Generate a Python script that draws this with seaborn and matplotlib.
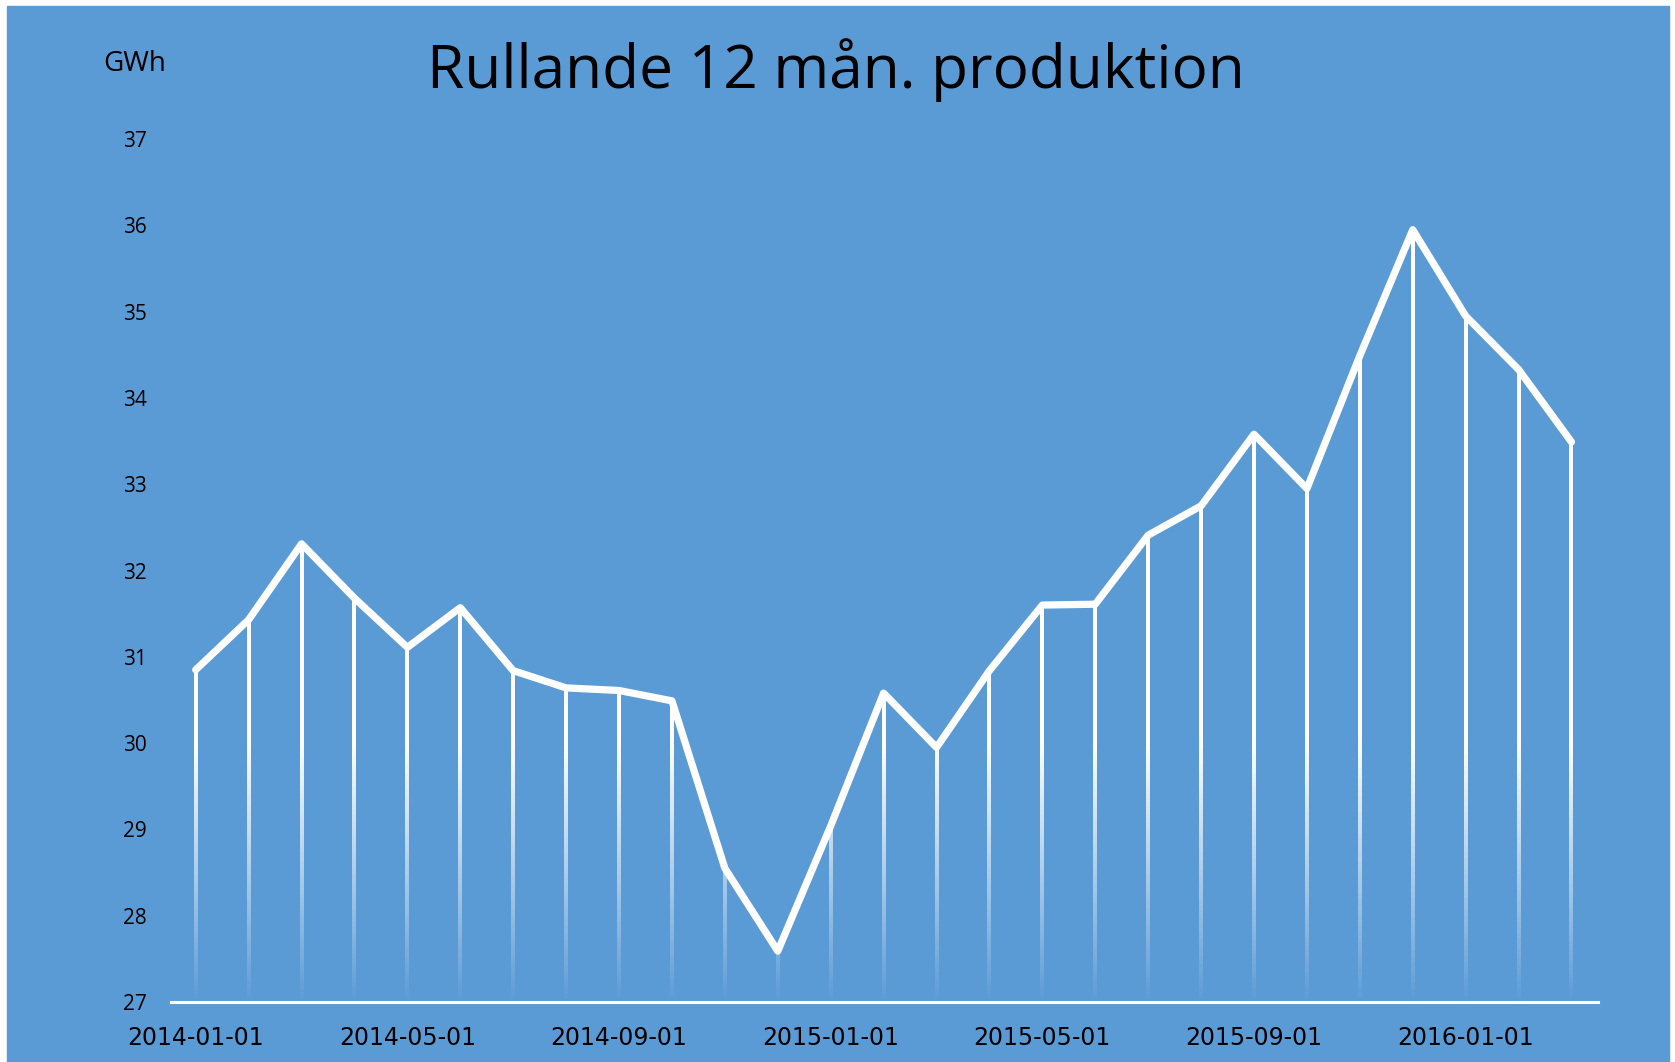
import numpy as np
import pandas as pd
import seaborn as sns
import matplotlib.pyplot as plt
from matplotlib.patches import Rectangle
from matplotlib.collections import LineCollection

# rullande 12 mån produktion, GWh
months = ["2014-01-01", "2014-02-01", "2014-03-01", "2014-04-01", "2014-05-01",
          "2014-06-01", "2014-07-01", "2014-08-01", "2014-09-01", "2014-10-01",
          "2014-11-01", "2014-12-01", "2015-01-01", "2015-02-01", "2015-03-01",
          "2015-04-01", "2015-05-01", "2015-06-01", "2015-07-01", "2015-08-01",
          "2015-09-01", "2015-10-01", "2015-11-01", "2015-12-01", "2016-01-01",
          "2016-02-01", "2016-03-01"]
gwh = [30.85, 31.43, 32.31, 31.68, 31.11, 31.57, 30.84, 30.64, 30.61, 30.49,
       28.55, 27.59, 29.04, 30.58, 29.95, 30.84, 31.60, 31.61, 32.41, 32.75,
       33.58, 32.95, 34.49, 35.95, 34.95, 34.33, 33.49]
y_ticks = [27, 28, 29, 30, 31, 32, 33, 34, 35, 36, 37]

blue = "#5B9BD5"

df = pd.DataFrame({"manad": months, "gwh": gwh})
df["idx"] = np.arange(len(df))

sns.set_style("white")
plt.rcParams['font.family'] = ['Open Sans', 'DejaVu Sans']
plt.rcParams['text.color'] = 'black'
plt.rcParams['xtick.color'] = 'black'
plt.rcParams['ytick.color'] = 'black'

fig = plt.figure(figsize=(16.75, 10.62), dpi=100)
fig.patch.set_facecolor("white")
fig.patches.append(Rectangle((7 / 1675, 0), (1669 - 7) / 1675, (1062 - 6) / 1062,
                             transform=fig.transFigure, color=blue, zorder=-10))

ax = fig.add_axes([0.102, 0.0565, 0.852, 0.8125])
ax.set_facecolor("none")
ax.set_zorder(2)

# drop lines, fading out towards the bottom
ymin = 27
segs, cols = [], []
for x, v in zip(df.idx, df.gwh):
    edges = np.linspace(ymin, v, 120)
    for a, b in zip(edges[:-1], edges[1:]):
        segs.append([(x, a), (x, b)])
        alpha = min(1.0, ((a + b) / 2 - ymin) / 3.0)
        cols.append((1, 1, 1, alpha))
ax.add_collection(LineCollection(segs, colors=cols, linewidths=1.45, zorder=2,
                                 antialiaseds=False))

sns.lineplot(data=df, x="idx", y="gwh", ax=ax, color="white", linewidth=5.2,
             zorder=3, solid_joinstyle="round", solid_capstyle="round")

ax.set_xlim(-0.47, len(df) - 1 + 0.5)
ax.set_ylim(27, 37)
ax.set_yticks(y_ticks)
ax.set_yticklabels([str(t) for t in y_ticks], fontsize=15)
ax.set_xticks(df.idx[::4])
ax.set_xticklabels(df.manad[::4], fontsize=17, family=['DejaVu Sans'])
ax.tick_params(axis="both", length=0)
ax.tick_params(axis="y", pad=17)
ax.tick_params(axis="x", pad=17)
ax.set_xlabel("")
ax.set_ylabel("")

for s in ["top", "right", "left"]:
    ax.spines[s].set_visible(False)
ax.spines["bottom"].set_color("white")
ax.spines["bottom"].set_linewidth(2.2)

fig.text(0.499, 0.934, "Rullande 12 mån. produktion", ha="center", va="center",
         fontsize=43.5, color="black")
fig.text(0.0805, 0.940, "GWh", ha="center", va="center", fontsize=20, color="black")

fig.savefig("out.png", dpi=100)
